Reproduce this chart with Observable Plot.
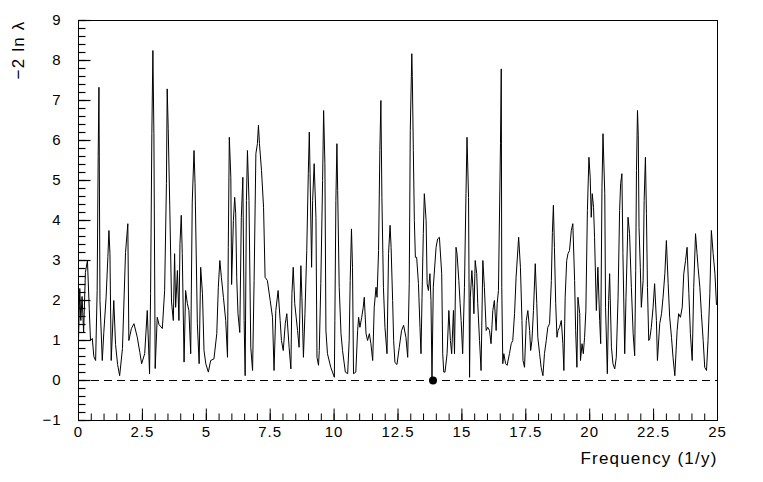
<!DOCTYPE html>
<html>
<head>
<meta charset="utf-8">
<script src="https://cdn.jsdelivr.net/npm/d3@7"></script>
<script src="https://cdn.jsdelivr.net/npm/@observablehq/plot@0.6"></script>
<style>
  html, body { margin: 0; padding: 0; background: #fff; }
  #chart { width: 763px; height: 482px; }
  #chart svg g[aria-label="text"] text { letter-spacing: 1.2px; }
  #chart svg g[aria-label="x-axis tick label"] text,
  #chart svg g[aria-label="y-axis tick label"] text { letter-spacing: 1px; }
</style>
</head>
<body>
<div id="chart"></div>
<script>
// Frequency (1/y)
const freq = [
  0.00,0.05,0.09,0.14,0.20,0.27,0.35,0.42,0.47,0.54,0.60,0.67,0.73,0.77,0.80,0.84,0.93,0.99,
  1.08,1.15,1.19,1.23,1.28,1.38,1.45,1.53,1.61,1.72,1.84,1.93,1.97,2.07,2.17,2.30,2.40,2.47,2.59,2.69,
  2.78,2.82,2.87,2.91,2.95,3.00,3.08,3.15,3.28,3.37,3.44,3.47,3.51,3.57,3.64,3.71,3.76,3.80,3.87,3.93,
  3.97,4.02,4.06,4.13,4.19,4.26,4.32,4.39,4.45,4.52,4.56,4.65,4.72,4.78,4.85,4.91,4.98,5.08,5.17,5.30,
  5.41,5.47,5.53,5.59,5.67,5.76,5.83,5.86,5.90,5.96,5.99,6.06,6.11,6.15,6.19,6.24,6.31,6.37,6.43,6.48,
  6.52,6.57,6.61,6.67,6.74,6.81,6.87,6.94,7.00,7.04,7.08,7.16,7.24,7.30,7.39,7.50,7.59,7.65,7.72,7.81,
  7.89,7.94,8.01,8.09,8.15,8.24,8.31,8.35,8.40,8.46,8.57,8.63,8.70,8.74,8.80,8.86,8.93,8.99,9.03,9.06,
  9.12,9.16,9.22,9.29,9.33,9.39,9.42,9.48,9.55,9.59,9.64,9.68,9.74,9.87,10.01,10.03,10.07,10.11,10.14,10.20,
  10.27,10.33,10.44,10.53,10.59,10.63,10.68,10.72,10.76,10.85,10.92,10.96,11.01,11.08,11.14,11.18,11.25,11.31,11.38,11.44,
  11.51,11.57,11.64,11.68,11.74,11.79,11.83,11.87,11.93,11.99,12.07,12.13,12.19,12.23,12.29,12.33,12.38,12.46,12.55,12.64,
  12.72,12.81,12.88,12.94,12.98,13.04,13.06,13.10,13.14,13.18,13.23,13.30,13.36,13.40,13.44,13.49,13.53,13.60,13.64,13.69,13.75,
  13.79,13.83,13.88,13.99,14.05,14.12,14.21,14.25,14.29,14.34,14.42,14.49,14.55,14.60,14.67,14.71,14.77,14.81,14.88,14.93,
  14.97,15.03,15.10,15.16,15.20,15.26,15.30,15.33,15.39,15.43,15.47,15.52,15.58,15.62,15.69,15.75,15.82,15.88,15.95,16.01,
  16.08,16.14,16.21,16.27,16.34,16.38,16.43,16.51,16.54,16.56,16.60,16.64,16.71,16.77,16.86,16.93,16.99,17.06,17.12,17.22,
  17.29,17.35,17.39,17.45,17.52,17.58,17.65,17.69,17.74,17.80,17.87,17.93,17.97,18.04,18.10,18.17,18.23,18.30,18.36,18.43,
  18.50,18.54,18.58,18.62,18.67,18.72,18.76,18.82,18.89,18.95,18.99,19.04,19.10,19.15,19.21,19.28,19.34,19.41,19.45,19.50,
  19.54,19.61,19.64,19.70,19.75,19.80,19.85,19.91,19.97,20.02,20.06,20.10,20.15,20.19,20.26,20.32,20.39,20.43,20.48,20.52,
  20.59,20.62,20.69,20.74,20.78,20.85,20.91,20.98,21.04,21.11,21.17,21.21,21.26,21.30,21.37,21.42,21.50,21.56,21.63,21.70,
  21.76,21.80,21.83,21.87,21.90,21.93,21.98,22.02,22.09,22.13,22.18,22.22,22.26,22.31,22.35,22.41,22.48,22.54,22.61,22.65,
  22.74,22.81,22.87,22.94,23.00,23.07,23.13,23.20,23.26,23.33,23.42,23.48,23.55,23.62,23.68,23.75,23.81,23.88,23.94,24.01,
  24.07,24.14,24.20,24.24,24.31,24.37,24.44,24.50,24.57,24.63,24.70,24.76,24.83,24.90,24.96,25.00
];
// -2 ln lambda
const lambdaStat = [
  1.00,2.30,1.50,2.10,1.20,2.70,3.00,1.80,1.00,1.05,0.60,0.50,2.25,5.60,7.33,2.00,0.50,1.20,
  2.08,3.10,3.75,3.17,0.50,2.00,0.90,0.40,0.12,0.80,3.20,3.92,1.00,1.30,1.42,1.08,0.70,0.42,0.67,1.75,
  0.17,2.17,6.17,8.25,6.17,0.30,1.58,1.40,1.30,2.25,4.92,7.29,6.30,4.38,1.96,1.50,3.17,1.83,2.75,1.50,
  3.42,4.13,3.17,0.46,2.25,1.92,1.75,0.67,4.46,5.75,4.92,1.42,0.42,2.83,2.17,0.75,0.42,0.21,0.50,0.54,
  1.17,2.33,3.00,2.58,2.08,1.50,0.58,3.33,6.08,5.08,2.40,4.00,4.58,4.17,2.58,1.67,1.20,4.08,5.08,1.50,
  0.12,4.50,5.75,4.50,0.83,0.25,2.50,5.67,5.92,6.38,5.92,5.25,4.33,2.58,2.50,2.00,1.58,0.25,1.75,2.25,
  1.50,1.00,0.75,1.42,1.67,0.83,0.29,2.17,2.83,1.92,1.25,0.83,2.87,2.08,0.58,1.67,3.25,5.17,6.21,5.17,
  2.83,4.50,5.42,4.08,0.58,0.38,0.75,2.42,5.00,6.75,5.42,1.25,0.67,0.33,0.08,1.50,4.50,5.92,4.75,2.33,
  1.17,0.75,0.21,0.17,1.00,2.50,3.79,2.83,0.17,0.21,1.25,1.58,1.33,1.58,1.83,2.08,1.17,1.00,1.17,0.92,
  0.50,1.83,2.33,2.08,3.25,5.75,7.00,4.58,2.33,1.33,0.67,3.17,3.88,3.33,2.00,1.00,0.45,0.40,0.83,1.25,
  1.38,1.08,0.58,2.42,6.25,8.17,7.60,5.75,4.00,3.08,3.08,2.42,1.33,0.67,2.08,3.67,4.67,4.00,2.42,2.25,
  2.67,2.00,0.02,2.33,3.33,3.54,3.58,2.67,0.67,0.21,0.21,0.67,1.75,1.00,0.67,1.75,0.67,3.33,3.17,2.50,
  1.92,1.50,0.67,2.33,4.67,6.08,4.58,0.08,2.08,2.75,2.33,1.67,3.00,2.67,1.92,1.00,0.25,3.00,2.33,1.25,
  1.33,1.25,0.92,1.75,2.00,1.25,1.92,2.25,5.92,7.79,2.33,0.42,0.67,0.42,0.38,0.67,0.92,1.00,1.67,2.58,
  3.58,2.83,1.50,0.50,0.33,1.50,1.75,1.25,0.75,1.00,1.75,2.92,1.92,1.08,0.67,0.33,0.12,0.67,1.00,1.33,
  1.42,2.50,3.70,4.38,3.33,1.92,1.08,1.25,1.33,1.50,0.92,0.25,2.08,3.00,3.17,3.25,3.75,3.92,2.50,1.25,
  0.33,2.08,1.67,0.50,0.92,0.67,1.08,1.75,4.25,5.58,5.08,4.08,4.67,4.33,3.58,1.75,2.83,1.50,0.92,4.83,
  6.17,4.67,1.83,0.17,2.00,2.67,0.83,0.42,0.29,0.58,2.08,4.25,4.92,5.17,3.17,0.67,2.08,4.08,3.67,2.33,
  1.17,0.62,2.75,5.25,6.75,6.13,3.83,2.83,1.83,2.50,4.50,5.58,4.17,2.33,1.00,1.04,1.33,1.83,2.42,1.50,
  0.50,1.42,1.67,2.08,2.67,3.50,2.42,1.58,1.08,0.58,0.12,1.25,1.67,1.58,1.83,2.67,3.00,3.33,2.17,1.17,
  0.50,2.33,3.67,3.17,2.83,2.33,1.67,1.00,0.33,0.25,1.00,2.17,3.75,3.17,2.67,1.90
];
// best-fit minimum marker
const minFreq = [13.87];
const minValue = [0];

const xTickLabels = [0, 2.5, 5, 7.5, 10, 12.5, 15, 17.5, 20, 22.5, 25];
const yTickLabels = [-1, 0, 1, 2, 3, 4, 5, 6, 7, 8, 9];
const xMinorTicks = d3.range(0, 51).map(i => i * 0.5);
const yMinorTicks = d3.range(0, 51).map(i => -1 + i * 0.2);

const xTitle = "Frequency (1/y)";
const yTitle = "\u22122 ln \u03bb";

const data = freq.map((f, i) => ({f, v: lambdaStat[i]}));
const minPoint = minFreq.map((f, i) => ({f, v: minValue[i]}));

const W = 763, H = 482;
const mL = 78, mR = 46, mT = 20, mB = 62;
const innerW = W - mL - mR, innerH = H - mT - mB;
// tick lengths expressed through the scales (px -> data units)
const xUnitsPerPx = 25 / innerW, yUnitsPerPx = 10 / innerH;

const chart = Plot.plot({
  width: W,
  height: H,
  marginLeft: mL,
  marginRight: mR,
  marginTop: mT,
  marginBottom: mB,
  style: {background: "#fff", color: "#000", fontFamily: "'Liberation Sans', Arial, sans-serif", fontSize: "15px"},
  x: {domain: [0, 25]},
  y: {domain: [-1, 9]},
  marks: [
    Plot.ruleY([0], {stroke: "#000", strokeWidth: 1, strokeDasharray: "8,5"}),
    Plot.line(data, {x: "f", y: "v", stroke: "#000", strokeWidth: 1}),
    Plot.dot(minPoint, {x: "f", y: "v", r: 4, fill: "#000", stroke: "none"}),
    Plot.frame({stroke: "#000", strokeWidth: 1}),
    // inward ticks (ROOT style)
    Plot.link(xMinorTicks, {x1: d => d, x2: d => d, y1: -1, y2: -1 + 7 * yUnitsPerPx, stroke: "#000", strokeWidth: 1}),
    Plot.link(xTickLabels, {x1: d => d, x2: d => d, y1: -1, y2: -1 + 12 * yUnitsPerPx, stroke: "#000", strokeWidth: 1}),
    Plot.link(yMinorTicks, {x1: 0, x2: 7 * xUnitsPerPx, y1: d => d, y2: d => d, stroke: "#000", strokeWidth: 1.2}),
    Plot.link(yTickLabels, {x1: 0, x2: 12 * xUnitsPerPx, y1: d => d, y2: d => d, stroke: "#000", strokeWidth: 1.2}),
    Plot.axisX({ticks: xTickLabels, tickSize: 0, tickPadding: 6, label: null, tickFormat: d => String(d)}),
    Plot.axisY({ticks: yTickLabels, tickSize: 0, tickPadding: 17, label: null}),
    Plot.text([xTitle], {text: d => d, frameAnchor: "bottom-right", textAnchor: "end", lineAnchor: "bottom", dy: 43, fontSize: 17, fill: "#000"}),
    Plot.text([yTitle], {text: d => d, frameAnchor: "top-left", textAnchor: "end", lineAnchor: "bottom", rotate: -90, dx: -55, dy: 0, fontSize: 17, fill: "#000"})
  ]
});
document.getElementById("chart").appendChild(chart);
</script>
</body>
</html>
